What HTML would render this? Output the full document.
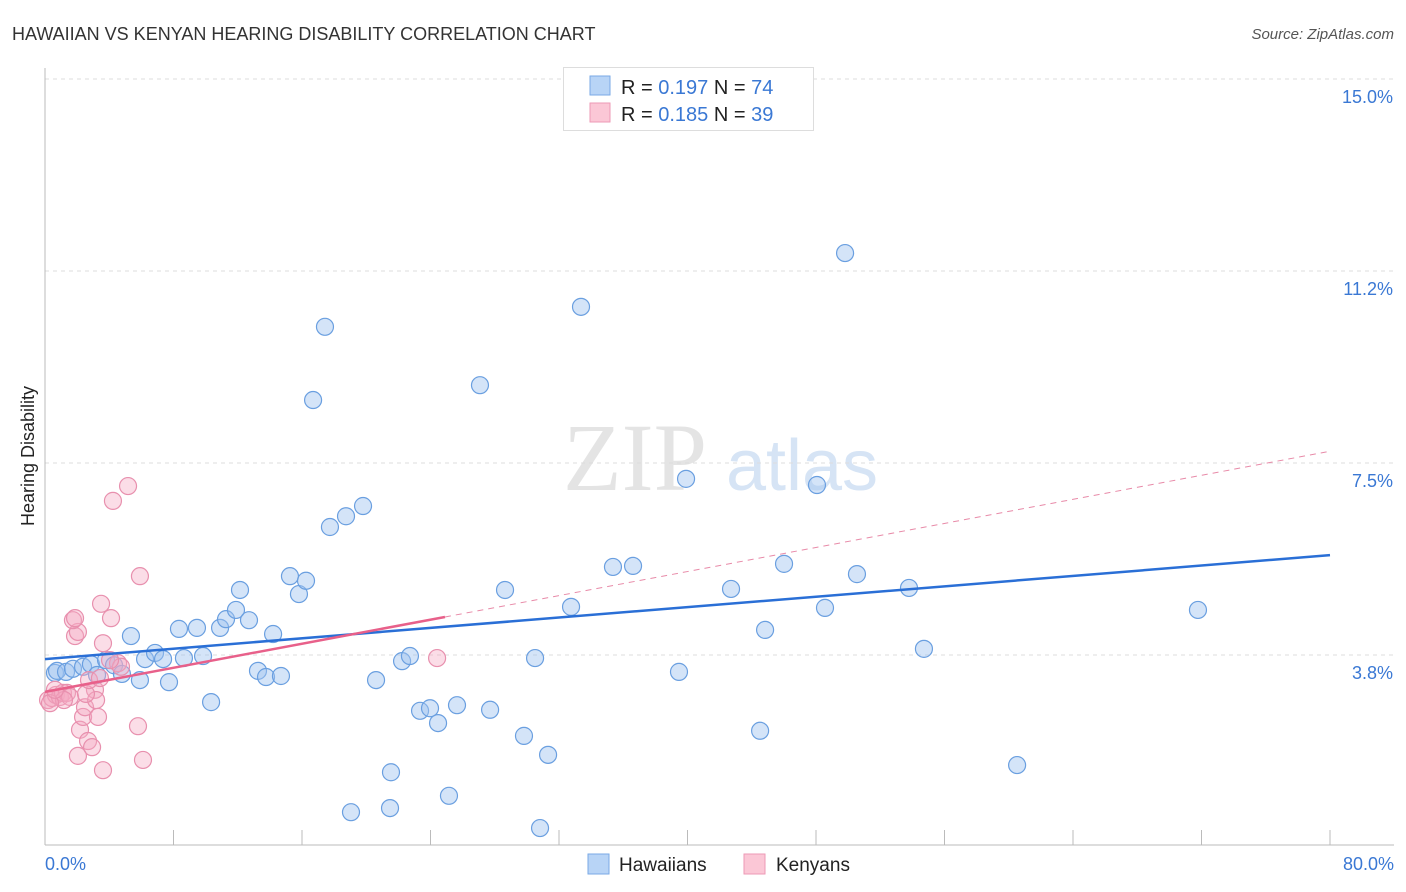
<!DOCTYPE html>
<html><head><meta charset="utf-8"><style>
body{margin:0;background:#fff;font-family:"Liberation Sans",sans-serif}
svg{display:block}
</style></head><body>
<svg id="c" width="1406" height="892" viewBox="0 0 1406 892">
<text x="12" y="40" font-size="18" fill="#333">HAWAIIAN VS KENYAN HEARING DISABILITY CORRELATION CHART</text>
<text x="1394" y="39" font-size="15" fill="#555" font-style="italic" text-anchor="end">Source: ZipAtlas.com</text>
<text x="34" y="456" font-size="18" fill="#222" text-anchor="middle" transform="rotate(-90 34 456)">Hearing Disability</text>
<g><text x="635" y="490" font-size="96" font-family="Liberation Serif,serif" fill="#e4e4e4" text-anchor="middle">ZIP</text><text x="802" y="490" font-size="72" fill="#d6e4f5" text-anchor="middle">atlas</text></g>
<g id="grid"></g><g id="axes"></g><g id="pts"></g><g id="trend"></g>
<g>
<rect x="563.5" y="67.5" width="250" height="63" fill="#fff" stroke="#ddd"/>
<rect x="590" y="76" width="20" height="19" fill="#b8d4f6" stroke="#7aa9e6"/>
<rect x="590" y="103" width="20" height="19" fill="#fbc7d6" stroke="#ee9ab6"/>
<text x="621" y="94" font-size="20" fill="#222">R = <tspan fill="#3a78d4">0.197</tspan>   N = <tspan fill="#3a78d4">74</tspan></text>
<text x="621" y="121" font-size="20" fill="#222">R = <tspan fill="#3a78d4">0.185</tspan>   N = <tspan fill="#3a78d4">39</tspan></text>
</g>
<g>
<rect x="588" y="854" width="21" height="20" fill="#b8d4f6" stroke="#7aa9e6"/>
<text x="619" y="871" font-size="19" fill="#222">Hawaiians</text>
<rect x="744" y="854" width="21" height="20" fill="#fbc7d6" stroke="#ee9ab6"/>
<text x="776" y="871" font-size="19" fill="#222">Kenyans</text>
</g>
</svg>
<script>
const yTicks=[3.75,7.5,11.25,15.0];
const yTickLabels=["3.8%","7.5%","11.2%","15.0%"];
const xTickVals=[0,8,16,24,32,40,48,56,64,72,80];
const hawX=[0.62,0.75,1.31,1.74,2.37,2.86,3.24,3.80,4.30,4.79,5.35,5.91,6.23,6.85,7.35,7.72,8.34,8.65,9.46,9.84,10.34,10.90,11.27,11.89,12.14,12.70,13.26,13.76,14.20,14.69,15.25,15.81,16.25,16.69,17.43,17.74,18.74,19.80,19.05,20.61,21.54,21.48,22.23,22.72,23.35,23.97,24.47,25.15,25.65,27.08,27.71,28.64,29.82,30.51,30.82,31.32,32.75,33.37,35.36,36.61,39.47,39.91,42.71,44.52,44.83,46.01,48.06,48.56,49.81,50.55,53.79,54.72,60.52,71.78];
const hawY=[3.40,3.44,3.42,3.48,3.52,3.57,3.36,3.65,3.55,3.38,4.12,3.26,3.67,3.79,3.67,3.22,4.26,3.69,4.28,3.73,2.83,4.28,4.45,4.63,5.02,4.43,3.44,3.32,4.16,3.34,5.29,4.94,5.20,8.73,10.16,6.25,6.46,6.66,0.68,3.26,1.46,0.76,3.63,3.73,2.66,2.71,2.42,1.00,2.77,9.02,2.68,5.02,2.17,3.69,0.37,1.80,4.69,10.55,5.47,5.49,3.42,7.19,5.04,2.27,4.24,5.53,7.07,4.67,11.60,5.33,5.06,3.87,1.60,4.63];
const kenX=[0.19,0.44,0.68,0.93,1.12,1.37,1.56,1.87,2.05,1.74,1.87,2.18,2.05,2.37,2.49,2.68,2.93,3.11,3.18,3.30,3.49,3.61,3.61,4.11,4.23,4.55,4.73,5.17,5.79,5.91,6.10,2.55,2.74,3.42,4.05,1.18,0.31,0.62,24.41];
const kenY=[2.87,2.91,2.97,2.93,3.01,3.01,2.93,4.12,4.20,4.43,4.47,2.29,1.78,2.54,2.73,2.07,1.95,3.07,2.87,2.54,4.75,3.98,1.50,4.47,6.76,3.59,3.52,7.05,2.36,5.29,1.70,2.99,3.26,3.30,3.65,2.87,2.81,3.07,3.69];
const hawTrend=[3.67,5.70];
const kenTrend=[3.03,7.73];
const kenSolidEnd=24.9;
const NS="http://www.w3.org/2000/svg";
const X=v=>45+v/80*1285, Y=v=>847-v/3.75*192;
function mk(p,t,a){const e=document.createElementNS(NS,t);for(const k in a)e.setAttribute(k,a[k]);document.getElementById(p).appendChild(e);return e;}
yTicks.forEach((t,i)=>{
 const l=mk('grid','line',{x1:45,x2:1394,y1:Y(t),y2:Y(t),stroke:'#ddd','stroke-dasharray':'4,4'});
 
 
 const tx=mk('grid','text',{x:1393,y:Y(t)+24,'font-size':18,fill:'#3a78d4','text-anchor':'end'});
 tx.textContent=yTickLabels[i];
 
 
});
let a=mk('axes','line',{x1:45,x2:45,y1:68,y2:845,stroke:'#bbb'});


a=mk('axes','line',{x1:45,x2:1394,y1:845,y2:845,stroke:'#bbb'});


xTickVals.forEach(v=>{const t=mk('axes','line',{x1:X(v),x2:X(v),y1:830,y2:845,stroke:'#bbb'});
 
 });
let t=mk('axes','text',{x:45,y:870,'font-size':18,fill:'#3a78d4'});t.textContent='0.0%';


t=mk('axes','text',{x:1394,y:870,'font-size':18,fill:'#3a78d4','text-anchor':'end'});t.textContent='80.0%';


hawX.forEach((x,i)=>{const c=mk('pts','circle',{cx:X(x),cy:Y(hawY[i]),r:8.5,fill:'rgba(160,196,240,0.45)',stroke:'#6a9fe0','stroke-width':1.2});
 
 });
kenX.forEach((x,i)=>{const c=mk('pts','circle',{cx:X(x),cy:Y(kenY[i]),r:8.5,fill:'rgba(245,170,195,0.4)',stroke:'#e890ae','stroke-width':1.2});
 
 });
const kAt=v=>kenTrend[0]+(kenTrend[1]-kenTrend[0])*v/80;
let l=mk('trend','line',{x1:X(kenSolidEnd),y1:Y(kAt(kenSolidEnd)),x2:X(80),y2:Y(kenTrend[1]),stroke:'#e88aa8','stroke-width':1,'stroke-dasharray':'6,5'});


l=mk('trend','line',{x1:X(0),y1:Y(hawTrend[0]),x2:X(80),y2:Y(hawTrend[1]),stroke:'#2a6fd6','stroke-width':2.5});


l=mk('trend','line',{x1:X(0),y1:Y(kenTrend[0]),x2:X(kenSolidEnd),y2:Y(kAt(kenSolidEnd)),stroke:'#e8608a','stroke-width':2.5});


</script>
</body></html>
